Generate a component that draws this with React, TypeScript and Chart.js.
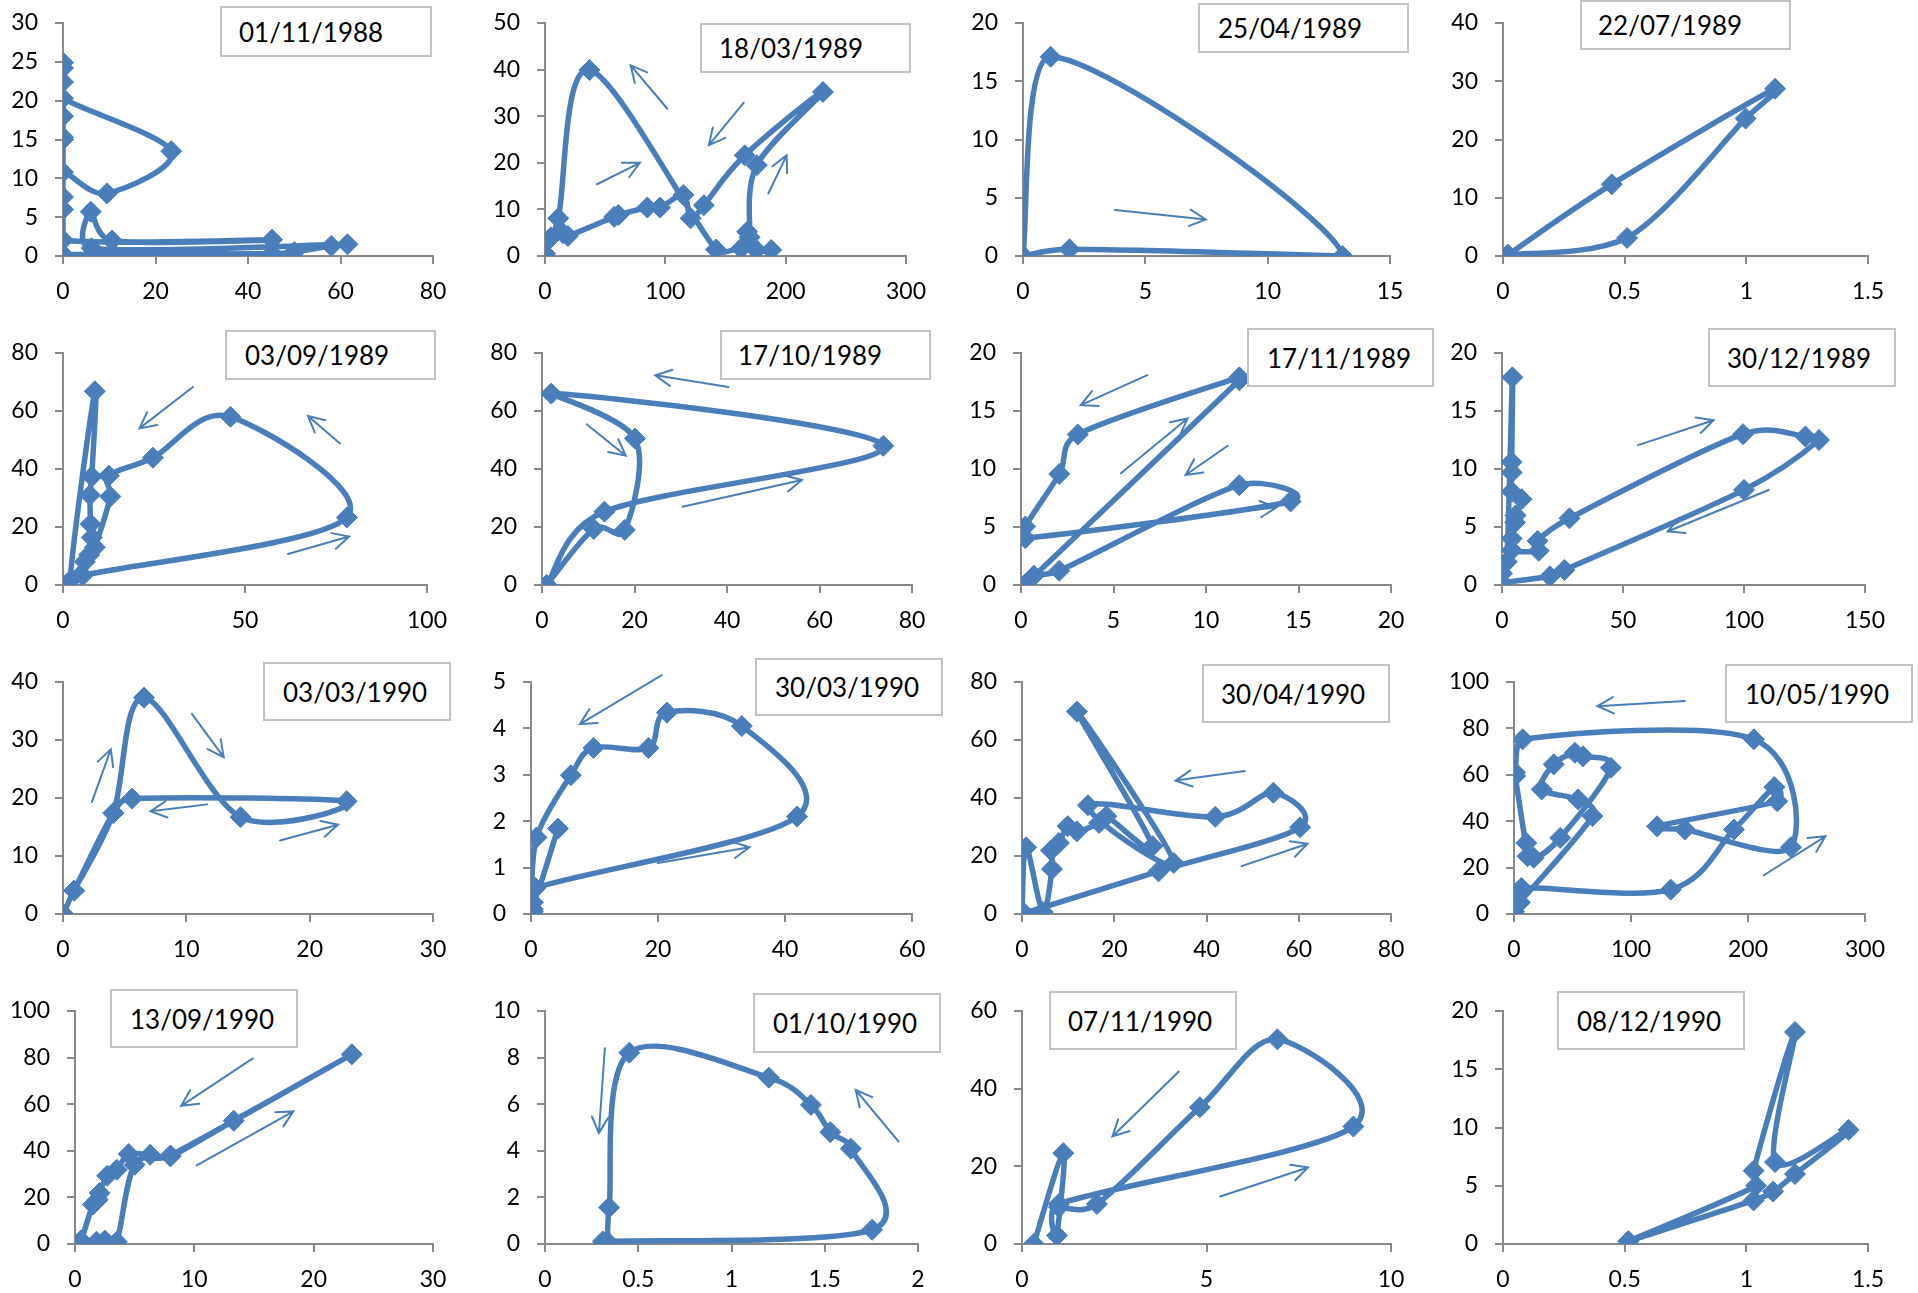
import React, { useEffect, useRef } from "react";
import { Chart, registerables } from "chart.js";

Chart.register(...registerables);

// ---------- panel titles & axes ----------
const panelTitles = [
  "01/11/1988", "18/03/1989", "25/04/1989", "22/07/1989",
  "03/09/1989", "17/10/1989", "17/11/1989", "30/12/1989",
  "03/03/1990", "30/03/1990", "30/04/1990", "10/05/1990",
  "13/09/1990", "01/10/1990", "07/11/1990", "08/12/1990",
];
const xMax = [80, 300, 15, 1.5, 100, 80, 20, 150, 30, 60, 80, 300, 30, 2, 10, 1.5];
const xStep = [20, 100, 5, 0.5, 50, 20, 5, 50, 10, 20, 20, 100, 10, 0.5, 5, 0.5];
const yMax = [30, 50, 20, 40, 80, 80, 20, 20, 40, 5, 80, 100, 100, 10, 60, 20];
const yStep = [5, 10, 5, 10, 20, 20, 5, 5, 10, 1, 20, 20, 20, 2, 20, 5];

// ---------- series (x, y in event order) and direction arrows [x1,y1,x2,y2] ----------
const p01X = [0, 0, 45.2, 50, 58, 61.5, 6.2, 6, 10.6, 45.2, 0, 0, 0, 0, 9.5, 23.4, 0, 0, 0, 0, 0, 0, 0, 0];
const p01Y = [0, 0.2, 0.3, 0.5, 1.3, 1.5, 1, 5.7, 2, 2.1, 2.05, 6, 7.6, 10.8, 8.06, 13.5, 20.3, 22.4, 24.2, 24.9, 18, 15.3, 15, 0];
const p01A: number[][] = [];

const p02X = [0, 5, 15, 19, 57.5, 61, 85, 95.6, 115, 121, 132, 166, 231, 176, 170, 168, 175.5, 188, 163, 142, 37, 11, 0];
const p02Y = [0.5, 4, 4.9, 4.3, 8.4, 8.8, 10.4, 10.4, 13.1, 8.1, 10.9, 21.6, 35.2, 19.5, 4, 5.2, 1.3, 1.3, 1.6, 1.4, 39.9, 8.1, 0.5];
const p02A = [[101.7, 31.6, 71.2, 40.9], [165.2, 32.9, 136.2, 23.8], [43.2, 15.4, 78.8, 20], [185.6, 13.4, 200.8, 21.6]];

const p03X = [0, 1.9, 13.06, 1.13, 0];
const p03Y = [0, 0.57, 0, 17.1, 0];
const p03A = [[3.76, 3.94, 7.47, 3.14]];

const p04X = [0.02, 0.51, 0.997, 1.118, 0.447, 0.02];
const p04Y = [0.2, 3.1, 23.6, 28.7, 12.3, 0.2];
const p04A: number[][] = [];

const p05X = [0, 5.4, 78, 46, 24.7, 12.6, 13, 8.75, 7.2, 2, 8.75, 7.9, 7.4, 7.6, 7.9, 6, 0];
const p05Y = [0, 3.3, 23.3, 58, 43.9, 37.7, 30.5, 13, 10.4, 1.5, 66.8, 37.4, 31, 21, 16.4, 8, 0];
const p05A = [[35.7, 68.3, 21, 54], [76.1, 48.8, 67.3, 58.3], [61.8, 10.7, 78.6, 16.7]];

const p06X = [1, 13.5, 73.8, 2, 20.1, 17.9, 11.2, 1];
const p06Y = [0, 25.3, 48, 66, 50.5, 19, 19.3, 0];
const p06A = [[40.3, 68.3, 24.5, 72.3], [9.65, 55.4, 18.1, 44.6], [30.4, 27, 56.2, 36.2]];

const p07X = [0.2, 0.7, 2.07, 11.8, 14.57, 0.23, 0.23, 2.07, 3.07, 11.8, 11.8, 0.2];
const p07Y = [0, 0.8, 1.23, 8.6, 7.2, 4.04, 5.04, 9.57, 12.98, 17.9, 17.65, 0];
const p07A = [[6.83, 18.1, 3.23, 15.5], [5.4, 9.63, 9, 14.36], [11.17, 12, 8.9, 9.48], [10.73, 6.19, 13.8, 6.68]];

const p08X = [0, 0, 2, 4.3, 4, 4, 4, 8.1, 5.6, 5.4, 4, 4, 15.2, 14.7, 27.9, 99.6, 125.4, 131, 100, 25.8, 19.8, 0];
const p08Y = [0, 1, 2, 17.9, 10.6, 9.7, 8.05, 7.4, 6, 5.4, 4, 3, 2.95, 3.8, 5.75, 13, 12.8, 12.5, 8.2, 1.3, 0.75, 0.2];
const p08A = [[56.2, 12.06, 87.4, 14.2], [110.2, 8.19, 68.4, 4.61]];

const p09X = [0, 0.9, 4.08, 6.57, 14.4, 23, 5.6, 4.08, 0.9, 0];
const p09Y = [0, 4.03, 17.4, 37.3, 16.7, 19.45, 19.9, 17.4, 4.03, 0];
const p09A = [[2.34, 19.3, 3.88, 28.4], [10.45, 34.5, 13.03, 27.05], [11.7, 18.9, 7.1, 17.7], [17.6, 12.66, 22.3, 15.4]];

const p10X = [0.3, 0.3, 0.7, 41.9, 33.2, 21.4, 18.5, 9.84, 6.27, 0.87, 0.3, 4.24];
const p10Y = [0.05, 0.1, 0.56, 2.1, 4.05, 4.34, 3.58, 3.58, 2.99, 1.65, 0.25, 1.84];
const p10A = [[20.6, 5.15, 7.7, 4.09], [19.96, 1.1, 34.4, 1.44]];

const p11X = [0, 29.6, 60.3, 54.5, 41.9, 14.3, 32.9, 11.9, 28.3, 18.3, 16.7, 11.9, 9.9, 8, 6.3, 6.5, 4.5, 0.9, 0];
const p11Y = [0, 14.7, 29.9, 41.8, 33.5, 37.5, 17.6, 69.8, 23.4, 33.7, 31.4, 28.5, 30.3, 24.5, 21.9, 15.5, 0.7, 23, 1];
const p11A = [[48.3, 49.3, 33.3, 46], [47.6, 16.5, 61.9, 24.2]];

const p12X = [0, 2.6, 6.3, 134, 188, 222.5, 225, 122.3, 146, 236.7, 205, 7.4, 1, 1, 11.6, 10.5, 16.9, 39.5, 82.8, 59, 52, 34, 23.7, 54.8, 67, 5, 0];
const p12Y = [0, 5.2, 11.2, 10.5, 36.4, 54.7, 48.6, 37.8, 36.4, 28.8, 75.3, 75.3, 61, 59.5, 24.9, 30.6, 24.2, 32.8, 63, 68, 69.5, 64.5, 53.7, 49.4, 42.2, 5, 1];
const p12A = [[146, 91.8, 71.2, 89.6], [213.5, 16.7, 266.2, 33.5]];

const p13X = [0.5, 1.5, 1.9, 2.06, 2.7, 3.5, 4.5, 6.3, 8, 13.3, 23.2, 8, 5, 3.5, 2.5, 1.8, 0.5];
const p13Y = [1, 16.9, 19, 21.9, 29.3, 31.9, 38.6, 38.3, 37.6, 52.9, 81.4, 38, 34, 1, 1.5, 1, 1.5];
const p13A = [[14.9, 79.7, 8.9, 59.3], [10.2, 33.7, 18.3, 56.9]];

const p14X = [0.31, 1.754, 1.64, 1.53, 1.426, 1.2, 0.452, 0.344, 0.335];
const p14Y = [0.11, 0.61, 4.09, 4.8, 5.97, 7.14, 8.21, 1.57, 0.1];
const p14A = [[1.895, 4.4, 1.666, 6.61], [0.321, 8.4, 0.289, 4.76]];

const p15X = [0.32, 1.12, 0.95, 1, 8.98, 6.92, 4.82, 2.03, 1];
const p15Y = [0, 23.4, 2.2, 10.3, 30.25, 52.7, 35.2, 10.3, 9.5];
const p15A = [[4.25, 44.4, 2.45, 27.7], [5.37, 12.25, 7.75, 19.7]];

const p16X = [0.515, 1.03, 1.11, 1.2, 1.42, 1.118, 1.2, 1.03, 1.04, 0.515];
const p16Y = [0.23, 3.74, 4.5, 6, 9.8, 7.03, 18.2, 6.29, 5, 0.23];
const p16A: number[][] = [];

const seriesX = [p01X, p02X, p03X, p04X, p05X, p06X, p07X, p08X, p09X, p10X, p11X, p12X, p13X, p14X, p15X, p16X];
const seriesY = [p01Y, p02Y, p03Y, p04Y, p05Y, p06Y, p07Y, p08Y, p09Y, p10Y, p11Y, p12Y, p13Y, p14Y, p15Y, p16Y];
const seriesArrows = [p01A, p02A, p03A, p04A, p05A, p06A, p07A, p08A, p09A, p10A, p11A, p12A, p13A, p14A, p15A, p16A];

// ---------- layout (page pixels) ----------
const rowTB = [[23, 256], [353, 585], [682, 914], [1011, 1244]];
const colLR = [
  [63, 433], [545, 906], [1023, 1390], [1503, 1868],
  [63, 427], [542, 912], [1021, 1391], [1502, 1865],
  [63, 433], [531, 912], [1022, 1391], [1514, 1865],
  [75, 433], [545, 918], [1022, 1391], [1503, 1868],
];
const boxes = [
  [220, 6, 432, 57, 239], [700, 23, 911, 73, 719], [1198, 3, 1409, 53, 1218], [1580, 0, 1791, 50, 1598],
  [225, 330, 436, 380, 245], [720, 330, 931, 380, 738], [1247, 328, 1434, 387, 1267], [1708, 328, 1896, 387, 1727],
  [263, 662, 451, 721, 283], [755, 658, 943, 716, 775], [1202, 664, 1390, 723, 1221], [1725, 664, 1913, 723, 1745],
  [110, 989, 298, 1048, 130], [753, 993, 941, 1053, 773], [1049, 991, 1237, 1050, 1068], [1557, 991, 1745, 1050, 1577],
];

const BLUE = "#4A7EBB";
const AXIS = "#898989";
const FONT = "Lato, 'Open Sans', 'Liberation Sans', sans-serif";
const PT = 34;
const PR = 42;
const XH = 52;
const SMOOTH = 1 / 6; // Catmull-Rom style smoothing, like a spreadsheet "smoothed line"
const CAP = 0.5; // control handle never longer than this share of its segment

function fmt(v: number | string) {
  const n = Number(v);
  return String(Math.round(n * 1000) / 1000);
}

function clamp(v: number, lo: number, hi: number) {
  return Math.max(lo, Math.min(hi, v));
}

// Replace Chart.js' bezier control points with a uniform Catmull-Rom rule
const smoothPlugin = {
  id: "smoothCR",
  beforeDatasetDraw(chart: any, args: any) {
    const meta = chart.getDatasetMeta(args.index);
    const line = meta.dataset;
    if (!line || !meta.data || !meta.data.length) return;
    const area = chart.chartArea;
    if (typeof line.updateControlPoints === "function") line.updateControlPoints(area, "x");
    const pts = meta.data;
    const n = pts.length;
    for (let k = 0; k < n; k++) {
      const p = pts[k];
      const a = pts[k - 1] || p;
      const b = pts[k + 1] || p;
      const dx = (b.x - a.x) * SMOOTH;
      const dy = (b.y - a.y) * SMOOTH;
      const h = Math.hypot(dx, dy) || 1;
      const segA = Math.hypot(p.x - a.x, p.y - a.y);
      const segB = Math.hypot(b.x - p.x, b.y - p.y);
      const fA = Math.min(1, (CAP * segA) / h);
      const fB = Math.min(1, (CAP * segB) / h);
      p.cp1x = clamp(p.x - dx * fA, area.left, area.right);
      p.cp1y = clamp(p.y - dy * fA, area.top, area.bottom);
      p.cp2x = clamp(p.x + dx * fB, area.left, area.right);
      p.cp2y = clamp(p.y + dy * fB, area.top, area.bottom);
    }
    line._path = undefined;
  },
};

function Panel({ i }: { i: number }) {
  const ref = useRef<HTMLCanvasElement>(null);
  const [L, R] = colLR[i];
  const [T, B] = rowTB[Math.floor(i / 4)];
  const YW = Math.min(70, L);
  const W = R - L + YW + PR;
  const H = B - T + PT + XH;

  useEffect(() => {
    if (!ref.current) return;
    const arrows = seriesArrows[i];
    const arrowPlugin = {
      id: "arrows" + i,
      afterDatasetsDraw(chart: any) {
        const ctx = chart.ctx;
        const xs = chart.scales.x;
        const ys = chart.scales.y;
        ctx.save();
        ctx.strokeStyle = BLUE;
        ctx.lineWidth = 2;
        ctx.lineCap = "round";
        for (const a of arrows) {
          const x1 = xs.getPixelForValue(a[0]);
          const y1 = ys.getPixelForValue(a[1]);
          const x2 = xs.getPixelForValue(a[2]);
          const y2 = ys.getPixelForValue(a[3]);
          const ang = Math.atan2(y2 - y1, x2 - x1);
          const len = 18;
          const spread = 0.47;
          ctx.beginPath();
          ctx.moveTo(x1, y1);
          ctx.lineTo(x2, y2);
          ctx.moveTo(x2 - len * Math.cos(ang - spread), y2 - len * Math.sin(ang - spread));
          ctx.lineTo(x2, y2);
          ctx.lineTo(x2 - len * Math.cos(ang + spread), y2 - len * Math.sin(ang + spread));
          ctx.stroke();
        }
        ctx.restore();
      },
    };
    const pts = seriesX[i].map((x, k) => ({ x, y: seriesY[i][k] }));
    const tickFont = { family: FONT, size: 23 };
    const chart = new Chart(ref.current, {
      type: "scatter",
      data: {
        datasets: [
          {
            data: pts,
            showLine: true,
            borderColor: BLUE,
            backgroundColor: BLUE,
            borderWidth: 5.5,
            borderJoinStyle: "round",
            borderCapStyle: "round",
            tension: 0.4,
            pointStyle: "rectRot",
            pointRadius: 10.5,
            pointBorderWidth: 1,
            pointBackgroundColor: BLUE,
            pointBorderColor: BLUE,
          } as any,
        ],
      },
      options: {
        animation: false,
        responsive: false,
        devicePixelRatio: 1,
        events: [],
        layout: { padding: { left: 0, top: PT, right: PR, bottom: 0 } },
        plugins: { legend: { display: false }, tooltip: { enabled: false } },
        scales: {
          x: {
            type: "linear",
            position: "bottom",
            min: 0,
            max: xMax[i],
            ticks: { stepSize: xStep[i], callback: fmt, font: tickFont, color: "#000", padding: 14, maxRotation: 0, autoSkip: false },
            grid: { display: true, drawOnChartArea: false, drawTicks: true, tickLength: 8, color: AXIS, lineWidth: 2 },
            border: { display: true, color: AXIS, width: 2 },
            afterFit: (s: any) => { s.height = XH; },
          },
          y: {
            type: "linear",
            position: "left",
            min: 0,
            max: yMax[i],
            ticks: { stepSize: yStep[i], callback: fmt, font: tickFont, color: "#000", padding: 17, autoSkip: false },
            grid: { display: true, drawOnChartArea: false, drawTicks: true, tickLength: 8, color: AXIS, lineWidth: 2 },
            border: { display: true, color: AXIS, width: 2 },
            afterFit: (s: any) => { s.width = YW; },
          },
        },
      } as any,
      plugins: [smoothPlugin, arrowPlugin],
    });
    return () => chart.destroy();
  }, [i]);

  return (
    <canvas
      ref={ref}
      width={W}
      height={H}
      style={{ position: "absolute", left: L - YW, top: T - PT, width: W, height: H, zIndex: 1 }}
    />
  );
}

function TitleBox({ i }: { i: number }) {
  const [x1, y1, x2, y2, tx] = boxes[i];
  return (
    <div
      style={{
        position: "absolute",
        left: x1,
        top: y1,
        width: x2 - x1,
        height: y2 - y1,
        boxSizing: "border-box",
        border: "2px solid #c3c3c3",
        background: "#fff",
        display: "flex",
        alignItems: "center",
        paddingLeft: tx - x1 - 2,
        fontFamily: FONT,
        fontSize: 26,
        color: "#000",
        zIndex: 2,
        whiteSpace: "nowrap",
      }}
    >
      {panelTitles[i]}
    </div>
  );
}

export default function App() {
  const idx = panelTitles.map((_, k) => k);
  return (
    <div
      style={{
        position: "absolute",
        left: 0,
        top: 0,
        width: 1918,
        height: 1293,
        background: "#fff",
        overflow: "hidden",
      }}
    >
      {idx.map((k) => (
        <Panel key={"p" + k} i={k} />
      ))}
      {idx.map((k) => (
        <TitleBox key={"b" + k} i={k} />
      ))}
    </div>
  );
}
